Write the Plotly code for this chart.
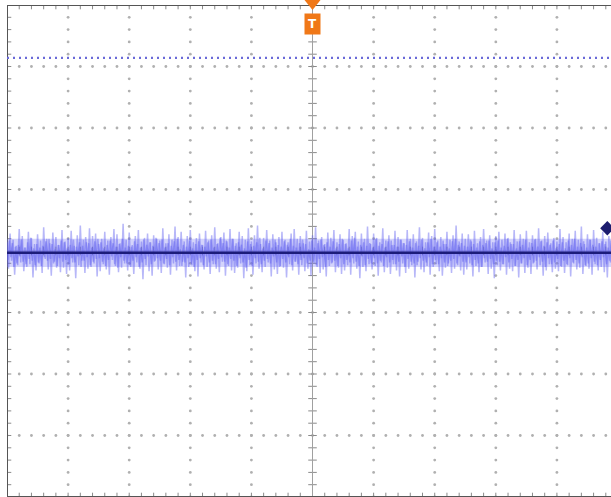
import plotly.graph_objects as go

# ---- data ----
# noise samples, in mV (scale: MV_PER_DIV mV per vertical division)
noise_a_mv = [
    12,-18,22,-9,15,-25,8,-14,27,-11,19,-21,6,-16,24,-13,17,-28,10,-20,
    21,-12,14,-23,29,-7,16,-19,11,-26,23,-10,18,-15,9,-22,26,-17,13,-24,
    17,-20,25,-11,8,-29,20,-14,31,-9,15,-23,12,-18,28,-16,19,-12,22,-27,
    10,-21,16,-13,24,-19,14,-25,18,-8,27,-15,21,-22,11,-17,33,-12,15,-20,
    23,-16,9,-24,19,-11,26,-18,13,-30,17,-14,22,-21,12,-26,20,-9,16,-19,
    14,-23,28,-13,11,-17,21,-25,15,-12,30,-20,18,-15,24,-10,13,-28,19,-16,
    26,-14,12,-21,17,-27,22,-11,9,-19,25,-16,14,-24,20,-13,29,-18,11,-22,
    18,-10,23,-26,13,-15,27,-20,16,-23,11,-17,24,-12,19,-29,15,-21,28,-14,
    13,-25,20,-12,31,-18,10,-22,17,-16,26,-11,14,-27,21,-19,12,-24,18,-15,
    24,-17,15,-28,12,-13,22,-20,27,-10,16,-25,19,-14,11,-21,25,-18,13,-26,
    20,-12,29,-16,14,-23,18,-19,10,-27,23,-15,17,-11,26,-22,12,-17,21,-24,
    15,-20,11,-14,27,-25,19,-12,24,-18,13,-29,22,-16,16,-21,30,-13,10,-19,
    22,-15,17,-26,12,-11,28,-22,14,-17,20,-24,9,-13,25,-20,18,-27,15,-12,
    11,-23,26,-18,16,-14,21,-28,13,-10,29,-19,17,-22,12,-15,23,-25,19,-16,
    27,-13,14,-21,18,-26,10,-17,24,-12,15,-23,20,-18,31,-14,13,-20,22,-25,
    16,-19,21,-12,13,-27,25,-15,11,-22,18,-16,27,-11,14,-24,20,-18,12,-29,
    19,-14,24,-20,15,-13,22,-25,17,-18,10,-21,26,-15,13,-28,21,-12,16,-23,
    25,-17,12,-24,20,-11,16,-19,28,-14,14,-26,19,-20,23,-13,11,-22,17,-18,
    13,-21,27,-16,18,-23,12,-14,22,-27,16,-12,25,-19,15,-17,30,-24,10,-15,
    21,-18,15,-25,26,-13,17,-20,11,-16,24,-22,13,-28,19,-11,22,-17,14,-21,
]
noise_b_mv = [
    -8,14,-5,11,-16,7,-12,9,-4,15,-10,6,-13,12,-7,17,-9,5,-14,10,
    -11,6,-15,8,-5,13,-9,16,-7,10,-12,4,-17,9,-6,14,-10,12,-8,5,
    -13,9,-6,15,-11,7,-4,12,-16,8,-9,18,-5,11,-14,6,-10,13,-7,16,
    -6,12,-10,5,-15,9,-8,14,-4,11,-13,7,-17,10,-5,16,-9,6,-12,8,
    -14,7,-9,13,-5,10,-16,6,-11,15,-7,9,-4,12,-13,8,-10,17,-6,11,
    -9,15,-12,6,-7,11,-14,8,-5,13,-10,16,-8,4,-15,9,-11,7,-6,14,
    -12,5,-16,10,-8,13,-6,9,-14,7,-4,12,-11,15,-9,6,-13,10,-7,17,
    -5,11,-10,14,-13,6,-7,16,-9,8,-15,12,-6,9,-11,5,-17,13,-8,10,
    -15,8,-6,12,-10,17,-13,5,-9,14,-7,11,-12,6,-4,15,-11,9,-16,7,
    -7,13,-11,9,-5,16,-14,8,-10,6,-13,11,-8,15,-6,10,-12,4,-9,14,
    -10,6,-14,11,-7,15,-5,9,-16,12,-8,7,-12,13,-9,5,-15,10,-6,16,
    -13,10,-8,5,-11,14,-6,17,-10,7,-15,9,-4,12,-14,8,-7,11,-12,6,
    -6,16,-12,8,-9,10,-15,6,-5,13,-11,14,-8,9,-13,7,-10,15,-4,11,
    -16,9,-7,13,-10,6,-12,11,-14,8,-6,15,-9,5,-11,12,-5,16,-13,7,
    -8,12,-13,7,-6,14,-11,10,-15,5,-9,13,-7,16,-12,9,-4,11,-10,8,
    -11,7,-5,15,-14,10,-8,6,-12,13,-16,9,-6,11,-10,14,-7,5,-13,12,
    -9,14,-10,6,-13,8,-5,16,-11,12,-7,10,-15,5,-8,13,-12,9,-6,15,
    -14,6,-8,11,-12,15,-9,7,-5,13,-10,8,-16,12,-6,9,-13,14,-11,5,
    -7,10,-15,12,-9,5,-13,14,-6,9,-11,16,-8,7,-12,11,-5,13,-14,6,
    -12,15,-6,9,-10,7,-14,11,-8,13,-5,10,-13,6,-9,14,-11,8,-7,12,
]
MV_PER_DIV = 70
noise_core_mv = 16         # dense part of the noise band (+/- mV)
trace_offset = -0.03       # signal baseline (div)
ref_level = 3.14           # blue dashed reference level (div)
trig_level = 0.37          # trigger level marker (div)
trig_pos = 0.0             # trigger position (div)

X_MIN, X_MAX = -5.0, 4.885
Y_MIN, Y_MAX = -4.0, 4.0
PLOT_H_PX = 492.0

fig = go.Figure()

# ---- graticule dots ----
minor = [i / 5 for i in range(-25, 26)]
gx, gy = [], []
for k in range(-4, 5):
    if k == 0:
        continue
    for m in minor:
        if -4 <= m <= 4:
            gx.append(k); gy.append(m)
for j in range(-3, 4):
    if j == 0:
        continue
    for m in minor:
        gx.append(m); gy.append(j)
fig.add_trace(go.Scatter(x=gx, y=gy, mode="markers",
                         marker=dict(size=2.8, color="#b0b0b0"),
                         hoverinfo="skip", showlegend=False))

# center axes and borders tick marks
sx, sy = [], []
tl_x = 0.07
tl_y = 0.07
for m in minor:
    if -4 <= m <= 4:
        sx += [-tl_x, tl_x, None]; sy += [m, m, None]
        sx += [X_MIN, X_MIN + tl_x, None]; sy += [m, m, None]
    sx += [m, m, None]; sy += [-tl_y, tl_y, None]
    sx += [m, m, None]; sy += [Y_MAX, Y_MAX - tl_y, None]
    sx += [m, m, None]; sy += [Y_MIN, Y_MIN + tl_y, None]
fig.add_trace(go.Scatter(x=sx, y=sy, mode="lines",
                         line=dict(color="#8a8a8a", width=1),
                         hoverinfo="skip", showlegend=False))
fig.add_trace(go.Scatter(x=[0, 0, None, X_MIN, X_MAX], y=[Y_MIN, Y_MAX, None, 0, 0],
                         mode="lines", line=dict(color="#a0a0a0", width=1),
                         hoverinfo="skip", showlegend=False))
fig.add_trace(go.Scatter(x=[X_MIN, X_MIN, None, X_MIN, X_MAX, None, X_MIN, X_MAX],
                         y=[Y_MIN, Y_MAX, None, Y_MAX, Y_MAX, None, Y_MIN, Y_MIN],
                         mode="lines", line=dict(color="#555555", width=2),
                         hoverinfo="skip", showlegend=False))

# reference dashed level
fig.add_trace(go.Scatter(x=[X_MIN, X_MAX], y=[ref_level, ref_level], mode="lines",
                         line=dict(color="#6a6ad8", width=2.2, dash="2px,4px"),
                         hoverinfo="skip", showlegend=False))

# ---- noise trace ----
core = noise_core_mv / MV_PER_DIV
fig.add_trace(go.Scatter(x=[-5, 5, 5, -5, -5],
                         y=[trace_offset + core, trace_offset + core,
                            trace_offset - core, trace_offset - core, trace_offset + core],
                         mode="lines", fill="toself", fillcolor="rgba(120,120,242,0.32)",
                         line=dict(width=0), hoverinfo="skip", showlegend=False))
na = len(noise_a_mv)
step = 10 / na
xa = [-5 + step * i for i in range(na)]
ya = [trace_offset + v / MV_PER_DIV for v in noise_a_mv]
nb = len(noise_b_mv)
xb = [-5 + step / 2 + 10 * i / nb for i in range(nb)]
yb = [trace_offset + v / MV_PER_DIV for v in noise_b_mv]
for xx, yy in ((xa, ya), (xb, yb)):
    fig.add_trace(go.Scatter(x=xx, y=yy, mode="lines",
                             line=dict(color="rgba(95,95,240,0.45)", width=1.5),
                             hoverinfo="skip", showlegend=False))
fig.add_trace(go.Scatter(x=[-5, 5], y=[trace_offset, trace_offset], mode="lines",
                         line=dict(color="#1c1c7a", width=2.5),
                         hoverinfo="skip", showlegend=False))

# trigger level marker (right)
fig.add_trace(go.Scatter(x=[X_MAX - 0.06], y=[trig_level], mode="markers",
                         marker=dict(symbol="diamond", size=11, color="#1c1c6e"),
                         cliponaxis=False, hoverinfo="skip", showlegend=False))

# trigger position marker (top): triangle + "T" box
px0 = (trig_pos - X_MIN) / (X_MAX - X_MIN)
dx = 8 / 604.0
ytop = 1 + 5 / PLOT_H_PX
ybot = 1 - 5 / PLOT_H_PX
fig.add_shape(type="path", xref="paper", yref="paper",
              path=f"M {px0-dx} {ytop} L {px0+dx} {ytop} L {px0} {ybot} Z",
              fillcolor="#f07818", line=dict(width=0), layer="above")
fig.add_annotation(x=trig_pos, y=3.69, xref="x", yref="y", text="<b>T</b>",
                   showarrow=False, bgcolor="#f07818",
                   font=dict(color="white", size=12, family="DejaVu Sans"),
                   borderpad=1, width=13, height=18)

fig.update_layout(
    width=611, height=497,
    margin=dict(l=7, r=0, t=5, b=0),
    paper_bgcolor="white", plot_bgcolor="white",
    xaxis=dict(range=[X_MIN, X_MAX], visible=False, fixedrange=True),
    yaxis=dict(range=[Y_MIN, Y_MAX], visible=False, fixedrange=True),
    showlegend=False,
)
fig.write_html("out.html", config={"displayModeBar": False},
               post_script="document.body.style.margin='0';document.body.style.padding='0';")
